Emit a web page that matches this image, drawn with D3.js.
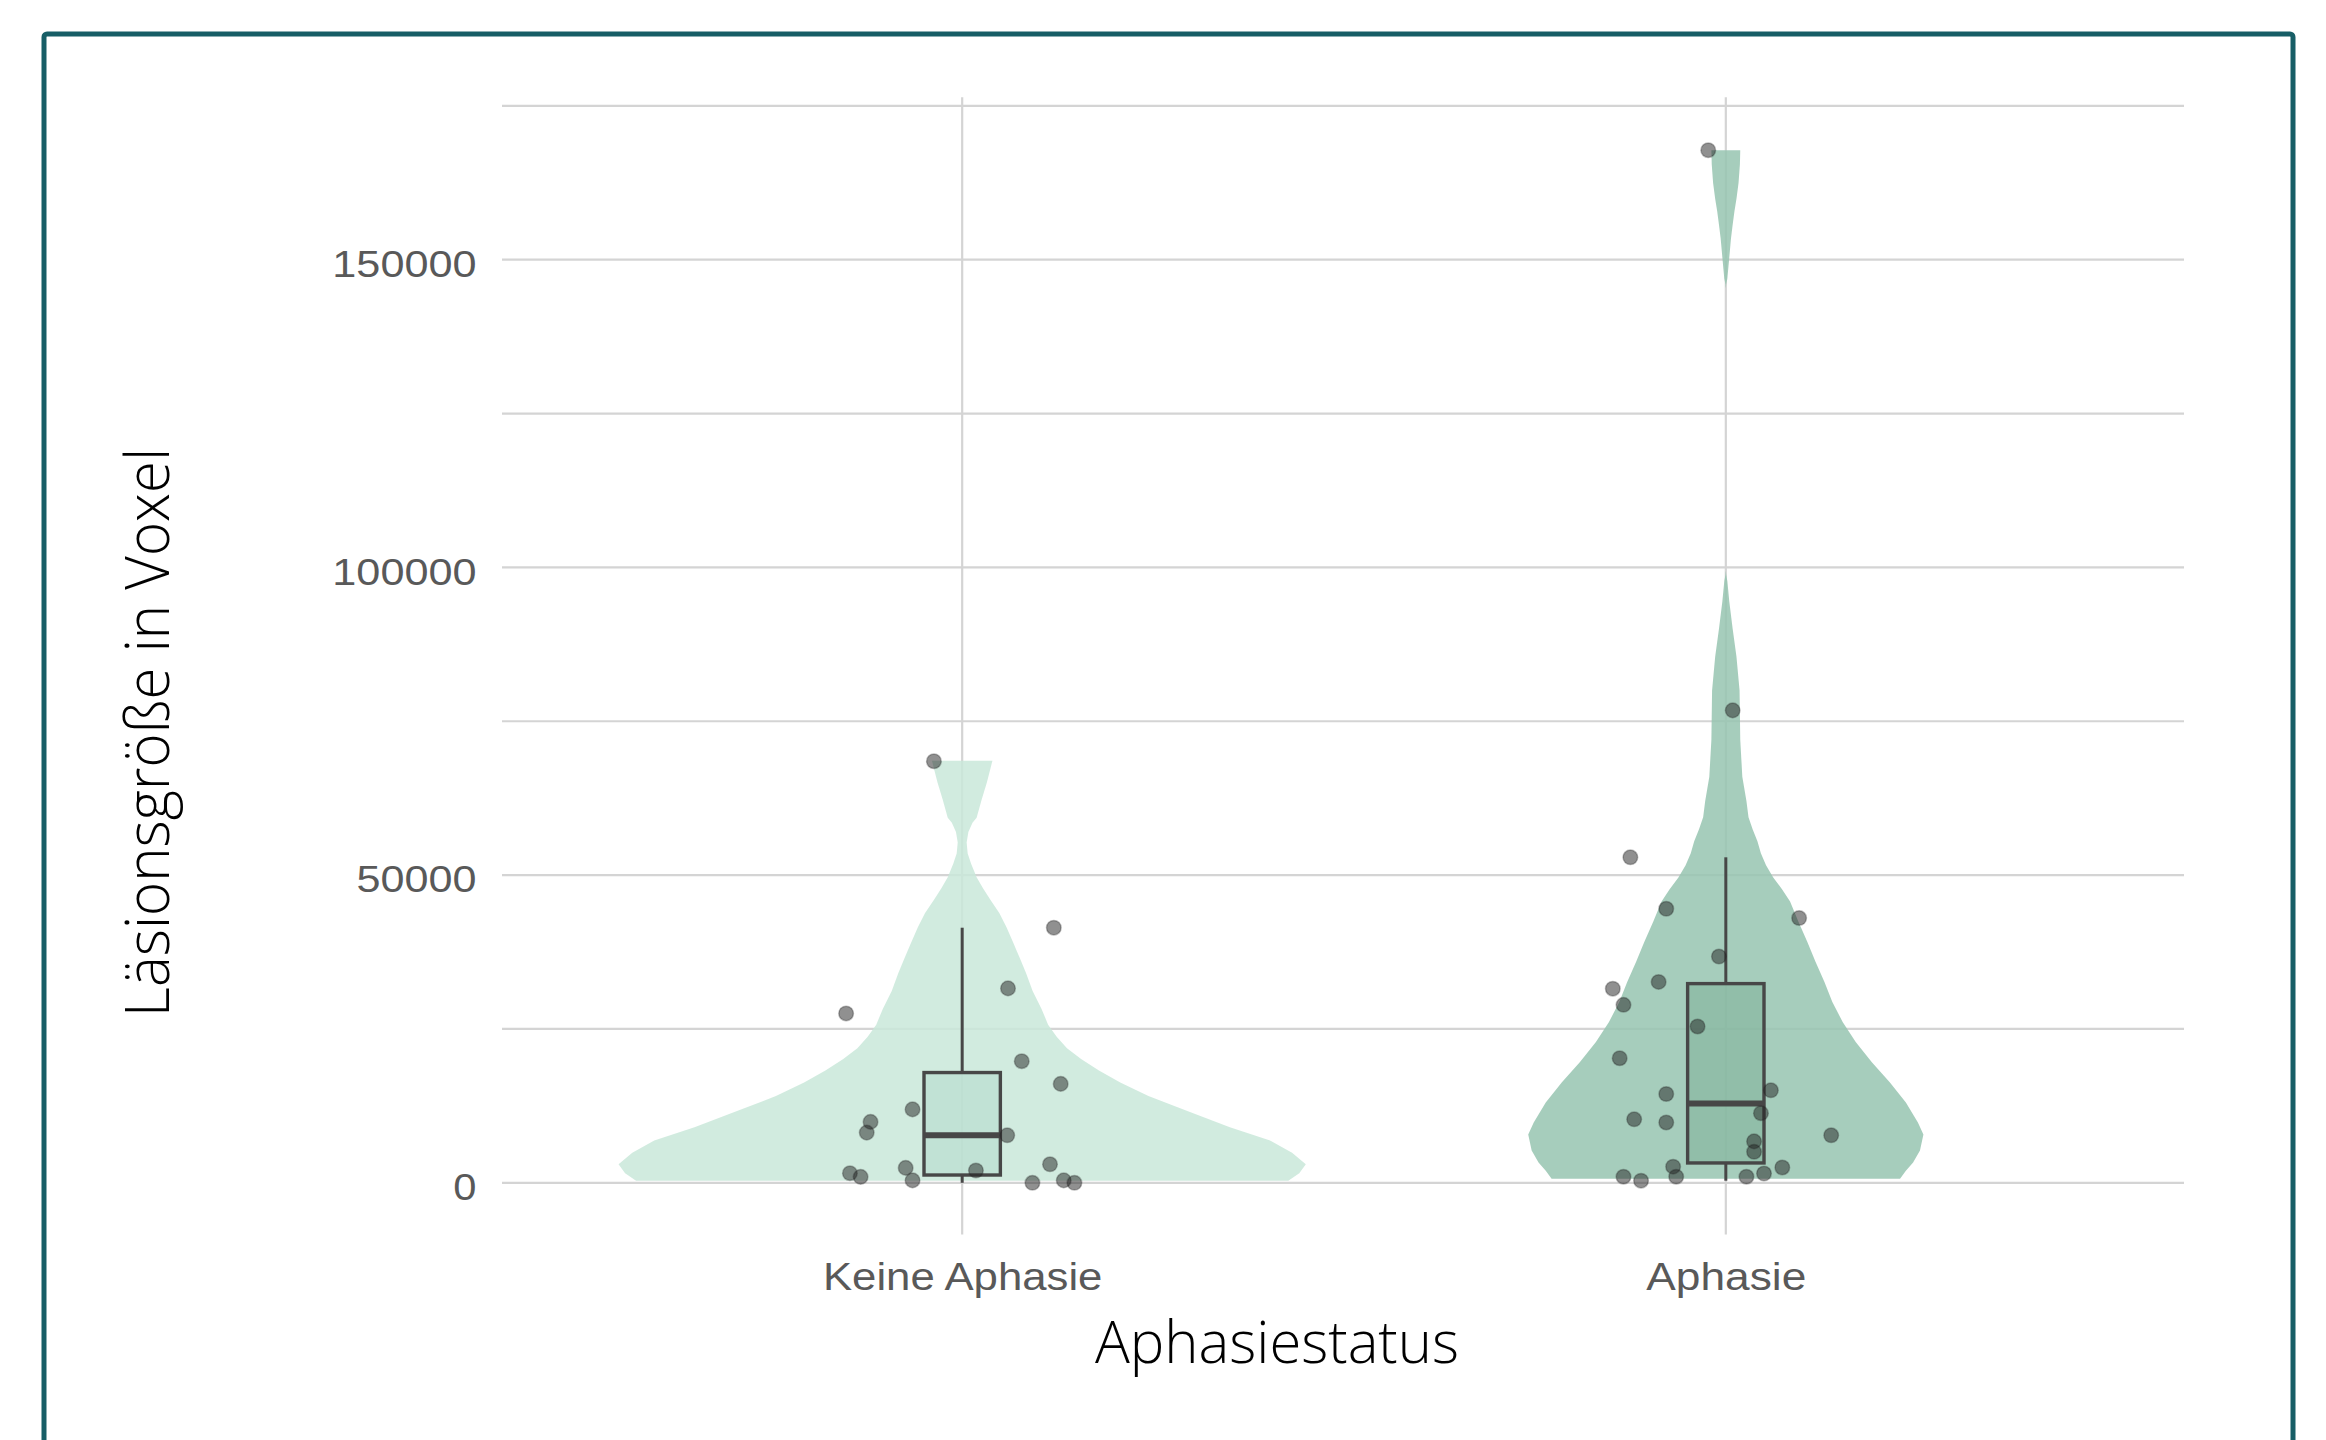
<!DOCTYPE html>
<html>
<head>
<meta charset="utf-8">
<script src="https://cdn.jsdelivr.net/npm/d3@7"></script>
<style>
  html, body { margin: 0; padding: 0; background: #ffffff; }
  svg { display: block; }
</style>
</head>
<body>
<svg id="chart" width="2326" height="1440"></svg>
<script>
// ---- data -------------------------------------------------------------
const categories = ["Keine Aphasie", "Aphasie"];

// lesion volume per patient (voxels) and horizontal jitter (category units)
const lesionKeine = [68500, 41450, 31590, 27520, 19760, 16070, 11930, 9900, 8160, 7720,
                     3010, 2420, 2000, 1560, 970, 390, 0, 390, 0];
const jitterKeine = [-0.037, 0.120, 0.060, -0.152, 0.078, 0.129, -0.065, -0.120, -0.125, 0.059,
                     0.115, -0.074, 0.018, -0.147, -0.133, -0.065, 0.092, 0.133, 0.147];

const lesionAphasie = [167790, 76770, 52890, 44530, 43020, 36770, 32640, 31540, 28920, 25400,
                       20240, 15030, 14430, 11310, 10320, 9800, 7720, 6730, 5040, 2620,
                       2490, 990, 340, 990, 990, 1510];
const jitterAphasie = [-0.023, 0.009, -0.125, -0.078, 0.096, -0.009, -0.088, -0.148, -0.134, -0.037,
                       -0.139, 0.059, -0.078, 0.046, -0.120, -0.078, 0.138, 0.037, 0.037, -0.069,
                       0.074, -0.134, -0.111, -0.065, 0.027, 0.050];

// violin outlines: voxel level and scaled density (1 = widest point of all violins)
const violinLevelsKeine = [330, 1560, 3010, 4890, 6860, 9030, 11570, 14100, 16280, 18250,
                           20130, 21870, 23750, 25700, 28260, 31150, 34060, 36590, 38980, 41530,
                           43840, 46010, 47830, 49650, 51830, 53500, 55300, 57000, 58500, 59300,
                           62340, 65100, 67500, 68600];
const violinDensityKeine = [0.949, 0.981, 1.000, 0.960, 0.896, 0.779, 0.659, 0.542, 0.460, 0.398,
                            0.346, 0.305, 0.275, 0.250, 0.231, 0.205, 0.186, 0.167, 0.149, 0.129,
                            0.108, 0.082, 0.061, 0.042, 0.026, 0.016, 0.013, 0.018, 0.030, 0.042,
                            0.057, 0.072, 0.083, 0.088];

const violinLevelsAphasie = [660, 1970, 3280, 5230, 7850, 9800, 13060, 16330, 19590, 22860,
                             26130, 29390, 32640, 35910, 39170, 42440, 45700, 47660, 49620, 51580,
                             53540, 55500, 57450, 59410, 62020, 66000, 72000, 80000, 85460, 89990,
                             94480, 97780, 98800, 99500, 145300, 146000, 146900, 150310, 153430, 155720,
                             157830, 159900, 162450, 165500, 167790];
const violinDensityAphasie = [0.507, 0.524, 0.545, 0.565, 0.575, 0.559, 0.524, 0.477, 0.425, 0.378,
                              0.340, 0.310, 0.287, 0.261, 0.237, 0.211, 0.187, 0.164, 0.138, 0.117,
                              0.102, 0.092, 0.078, 0.066, 0.060, 0.048, 0.042, 0.040, 0.031, 0.020,
                              0.010, 0.0044, 0.001, 0, 0, 0.001, 0.0044, 0.010, 0.015, 0.020,
                              0.025, 0.031, 0.037, 0.041, 0.042];

const yTicks = [0, 50000, 100000, 150000];
const yMinorTicks = [25000, 75000, 125000, 175000];

// ---- layout -----------------------------------------------------------
const panel = { left: 502, right: 2184, top: 97.2, bottom: 1234.5 };

const svg = d3.select("#chart");

const x = d3.scalePoint()
  .domain(categories)
  .range([504, panel.right])
  .padding(0.6);

const y = d3.scaleLinear()
  .domain([-8400, 176400])
  .range([panel.bottom, panel.top]);

const step = x.step();

const groups = [
  { cat: categories[0], values: lesionKeine, jitter: jitterKeine,
    levels: violinLevelsKeine, density: violinDensityKeine,
    violinFill: "#c9e7d9", boxFill: "#b1d9cb" },
  { cat: categories[1], values: lesionAphasie, jitter: jitterAphasie,
    levels: violinLevelsAphasie, density: violinDensityAphasie,
    violinFill: "#96c4b0", boxFill: "#7caf96" }
];

// ---- outer frame ------------------------------------------------------
svg.append("rect")
  .attr("x", 44).attr("y", 34)
  .attr("width", 2249).attr("height", 1460)
  .attr("rx", 3)
  .attr("fill", "none")
  .attr("stroke", "#175e66")
  .attr("stroke-width", 5);

// ---- grid -------------------------------------------------------------
const grid = svg.append("g").attr("class", "grid");
grid.selectAll("line.h")
  .data(yTicks.concat(yMinorTicks))
  .join("line")
  .attr("class", "h")
  .attr("x1", panel.left).attr("x2", panel.right)
  .attr("y1", d => y(d)).attr("y2", d => y(d))
  .attr("stroke", "#d4d4d4").attr("stroke-width", 2.2);

grid.selectAll("line.v")
  .data(categories)
  .join("line")
  .attr("class", "v")
  .attr("x1", d => x(d)).attr("x2", d => x(d))
  .attr("y1", panel.top).attr("y2", panel.bottom)
  .attr("stroke", "#d4d4d4").attr("stroke-width", 2.2);

// ---- violins ----------------------------------------------------------
const maxHalf = 0.45 * step;
groups.forEach(g => {
  const cx = x(g.cat);
  const rows = g.levels.map((lv, i) => ({ v: lv, d: g.density[i] }));
  const area = d3.area()
    .y(r => y(r.v))
    .x0(r => cx - r.d * maxHalf)
    .x1(r => cx + r.d * maxHalf)
    .curve(d3.curveLinear);
  svg.append("path")
    .datum(rows)
    .attr("d", area)
    .attr("fill", g.violinFill)
    .attr("fill-opacity", 0.85);
});

// ---- box plots --------------------------------------------------------
const boxW = 0.1 * step;
groups.forEach(g => {
  const cx = x(g.cat);
  const s = g.values.slice().sort(d3.ascending);
  const q1 = d3.quantile(s, 0.25);
  const med = d3.quantile(s, 0.5);
  const q3 = d3.quantile(s, 0.75);
  const iqr = q3 - q1;
  const hi = d3.max(s.filter(v => v <= q3 + 1.5 * iqr));
  const lo = d3.min(s.filter(v => v >= q1 - 1.5 * iqr));
  const b = svg.append("g").attr("class", "box");
  b.append("line")
    .attr("x1", cx).attr("x2", cx).attr("y1", y(q3)).attr("y2", y(hi))
    .attr("stroke", "#474747").attr("stroke-width", 3);
  b.append("line")
    .attr("x1", cx).attr("x2", cx).attr("y1", y(q1)).attr("y2", y(lo))
    .attr("stroke", "#474747").attr("stroke-width", 3);
  b.append("rect")
    .attr("x", cx - boxW / 2).attr("width", boxW)
    .attr("y", y(q3)).attr("height", y(q1) - y(q3))
    .attr("fill", g.boxFill).attr("fill-opacity", 0.5)
    .attr("stroke", "#474747").attr("stroke-width", 3.4);
  b.append("line")
    .attr("x1", cx - boxW / 2).attr("x2", cx + boxW / 2)
    .attr("y1", y(med)).attr("y2", y(med))
    .attr("stroke", "#474747").attr("stroke-width", 6);
});

// ---- jittered points ----------------------------------------------------
groups.forEach(g => {
  const cx = x(g.cat);
  svg.append("g").selectAll("circle")
    .data(g.values.map((v, i) => ({ v, j: g.jitter[i] })))
    .join("circle")
    .attr("cx", d => cx + d.j * step)
    .attr("cy", d => y(d.v))
    .attr("r", 7.3)
    .attr("fill", "#222").attr("fill-opacity", 0.5)
    .attr("stroke", "#222").attr("stroke-opacity", 0.3).attr("stroke-width", 1.5);
});

// ---- axes ---------------------------------------------------------------
const tickFont = "'Liberation Sans', Arial, sans-serif";

const yAxis = svg.append("g")
  .attr("transform", `translate(${panel.left},0)`)
  .call(d3.axisLeft(y).tickValues(yTicks).tickSize(0).tickPadding(25.5).tickFormat(d3.format("d")));
yAxis.select(".domain").remove();
yAxis.selectAll("text")
  .attr("dy", "16.7px")
  .attr("fill", "#595959")
  .style("font-family", tickFont)
  .style("font-size", "37px")
  .attr("textLength", d => 24.2 * String(d).length - 1)
  .attr("lengthAdjust", "spacingAndGlyphs");

const xLabelWidths = { "Keine Aphasie": 279.5, "Aphasie": 160 };
const xAxis = svg.append("g")
  .attr("transform", `translate(0,${panel.bottom})`)
  .call(d3.axisBottom(x).tickSize(0).tickPadding(0));
xAxis.select(".domain").remove();
xAxis.selectAll("text")
  .attr("y", 0)
  .attr("dy", "55.5px")
  .attr("fill", "#595959")
  .style("font-family", tickFont)
  .style("font-size", "38px")
  .attr("textLength", d => xLabelWidths[d])
  .attr("lengthAdjust", "spacingAndGlyphs");

// ---- axis titles --------------------------------------------------------
const titleFont = "'Open Sans', 'Noto Sans', sans-serif";

svg.append("text")
  .attr("x", 1277).attr("y", 1363.3)
  .attr("text-anchor", "middle")
  .style("font-family", titleFont)
  .style("font-weight", 300)
  .style("font-size", "58px")
  .attr("fill", "#000")
  .attr("textLength", 364)
  .attr("lengthAdjust", "spacingAndGlyphs")
  .text("Aphasiestatus");

svg.append("text")
  .attr("transform", "translate(169.2,732.4) rotate(-90)")
  .attr("text-anchor", "middle")
  .style("font-family", titleFont)
  .style("font-weight", 300)
  .style("font-size", "60px")
  .attr("fill", "#000")
  .attr("textLength", 569)
  .attr("lengthAdjust", "spacingAndGlyphs")
  .text("Läsionsgröße in Voxel");
</script>
</body>
</html>
